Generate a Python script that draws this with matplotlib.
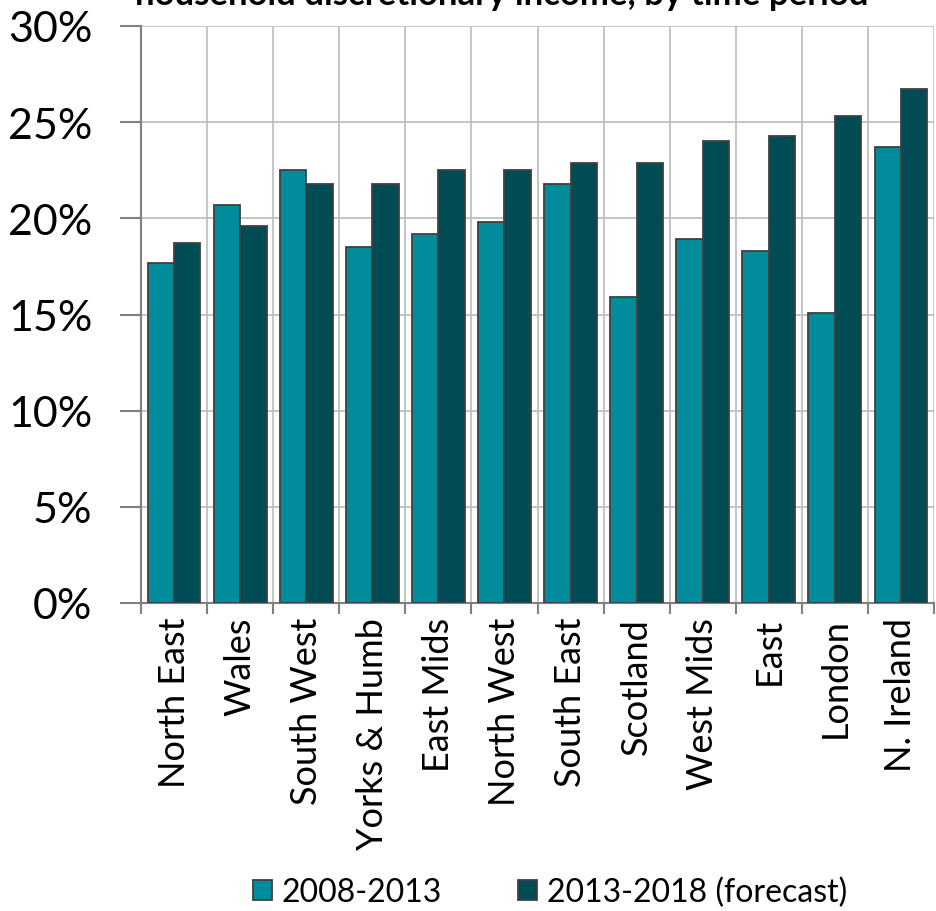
import numpy as np
import matplotlib.pyplot as plt
from matplotlib.ticker import FuncFormatter

plt.rcParams['font.family'] = ['Lato', 'DejaVu Sans']

# regions, ordered by forecast growth
regions = ["North East", "Wales", "South West", "Yorks & Humb", "East Mids",
           "North West", "South East", "Scotland", "West Mids", "East",
           "London", "N. Ireland"]
# growth in household discretionary income (%)
growth_2008_2013 = [17.7, 20.7, 22.5, 18.5, 19.2, 19.8, 21.8, 15.9, 18.9, 18.3, 15.1, 23.7]
growth_2013_2018 = [18.7, 19.6, 21.8, 21.8, 22.5, 22.5, 22.9, 22.9, 24.0, 24.3, 25.3, 26.7]
series_names = ["2008-2013", "2013-2018 (forecast)"]

teal = "#008C9A"
dark_teal = "#004C55"
edge = "#404040"
grid_col = "#C0C0C0"
axis_col = "#808080"

W, H = 936, 912
fig = plt.figure(figsize=(W / 100, H / 100), dpi=100)
ax = fig.add_axes([141 / W, 1 - 604 / H, (934 - 141) / W, (604 - 27) / H])

x = np.arange(len(regions))
bw = 0.4
ax.bar(x - bw / 2, growth_2008_2013, bw, color=teal, edgecolor=edge,
       linewidth=1.3, label=series_names[0], zorder=3)
ax.bar(x + bw / 2, growth_2013_2018, bw, color=dark_teal, edgecolor=edge,
       linewidth=1.3, label=series_names[1], zorder=3)

ax.set_xlim(-0.5, len(regions) - 0.5)
ax.set_ylim(0, 30)
ax.set_yticks(np.arange(0, 31, 5))
ax.yaxis.set_major_formatter(FuncFormatter(lambda v, p: f"{v:.0f}%"))

# category boundaries carry the ticks and the vertical grid
ax.set_xticks(np.arange(-0.5, len(regions)), minor=False)
ax.set_xticklabels([])
ax.set_xticks(x, minor=True)
ax.set_xticklabels(regions, minor=True, rotation=90, fontsize=26)
ax.tick_params(axis="x", which="minor", length=0, pad=10)
ax.tick_params(axis="x", which="major", length=8, width=1.5, color=axis_col)
ax.tick_params(axis="y", length=15, width=1.5, color=axis_col, labelsize=31, pad=20)

ax.grid(True, which="major", color=grid_col, linewidth=1.3, zorder=0)
ax.set_axisbelow(True)
for side in ("top", "right"):
    ax.spines[side].set_visible(False)
for side in ("left", "bottom"):
    ax.spines[side].set_color(axis_col)
    ax.spines[side].set_linewidth(1.5)

fig.text(502 / W, 1 - 5 / H, "household discretionary income, by time period",
         ha="center", va="baseline", fontsize=25, fontweight="bold")

fig.legend(loc="center", bbox_to_anchor=(550 / W, 1 - 893 / H), ncol=2,
           frameon=False, fontsize=23, handlelength=0.6, handleheight=0.6,
           handletextpad=0.3, columnspacing=2.4, borderpad=0)

fig.savefig("out.png", dpi=100)
